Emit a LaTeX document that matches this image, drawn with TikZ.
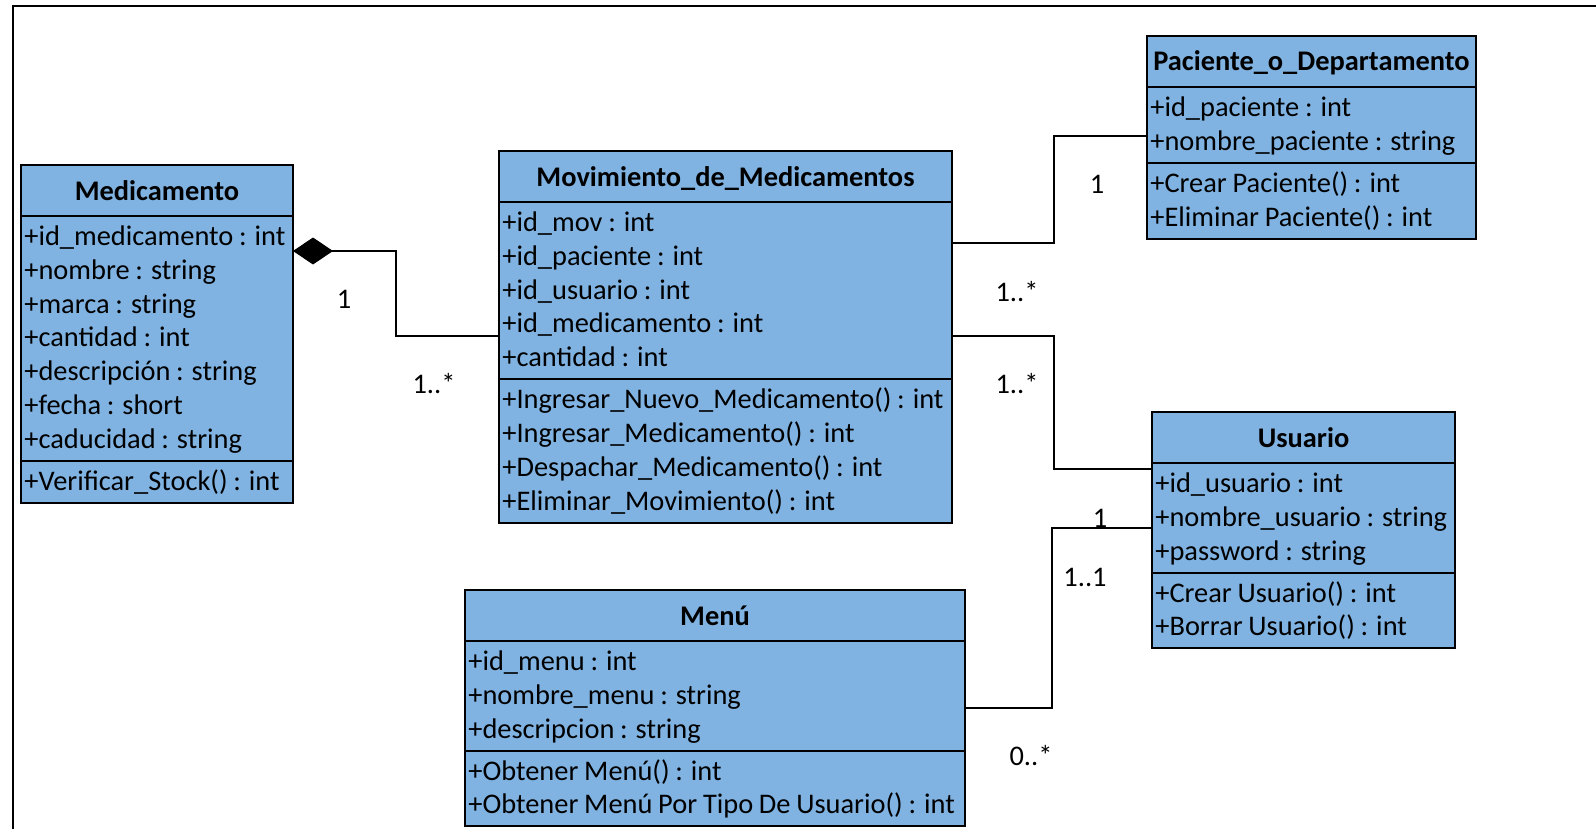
\documentclass[tikz,border=0pt]{standalone}
\usepackage{fontspec}
\setmainfont{Carlito}[WordSpace=0.9]
\usetikzlibrary{arrows.meta}
\definecolor{classfill}{RGB}{128,179,225}

% UML class box: name, x, y (top), width, title, attributes, methods, #attributes, #methods
\newcommand\umlclass[9]{%
  \pgfmathsetmacro\uhA{42+(#8-1)*33.8}%
  \pgfmathsetmacro\uhM{42+(#9-1)*33.8}%
  \pgfmathsetmacro\uyA{#3+51}%
  \pgfmathsetmacro\uyM{#3+51+\uhA}%
  \pgfmathsetmacro\uyB{\uyM+\uhM}%
  \pgfmathsetmacro\uxR{#2+#4}%
  \pgfmathsetmacro\uxC{#2+#4/2}%
  \pgfmathsetmacro\uW{#4*0.5}%
  \pgfmathsetmacro\uH{(\uyB-#3)*0.5}%
  \node[classbox, minimum width=\uW pt, minimum height=\uH pt] (#1) at (#2,#3) {};
  \draw[divider] (#1.west |- {0,\uyA}) -- (#1.east |- {0,\uyA});
  \draw[divider] (#1.west |- {0,\uyM}) -- (#1.east |- {0,\uyM});
  \node[titletext] (#1-title) at ({\uxC},{#3+35}) {#5};
  \foreach \itm [count=\i] in {#6} {%
    \node[rowtext] (#1-a\i) at ({#2+3},{\uyA+29.5+(\i-1)*33.8}) {\itm};}
  \foreach \itm [count=\i] in {#7} {%
    \node[rowtext] (#1-m\i) at ({#2+3},{\uyM+29.5+(\i-1)*33.8}) {\itm};}
}

\begin{document}
\begin{tikzpicture}[x=0.5pt,y=-0.5pt,
  classbox/.style={draw=black, fill=classfill, line width=1pt, rectangle,
    inner sep=0pt, outer sep=0pt, anchor=north west},
  divider/.style={draw=black, line width=1pt},
  rowtext/.style={anchor=base west, inner sep=0pt, font=\fontsize{14.2}{17}\selectfont},
  titletext/.style={anchor=base, inner sep=0pt, font=\fontsize{14.2}{17}\selectfont\bfseries},
  mult/.style={anchor=base, inner sep=0pt, font=\fontsize{14.2}{17}\selectfont},
  assoc/.style={draw=black, line width=0.6pt},
  composition/.style={assoc, {Diamond[length=20pt,width=13.5pt]}-},
  frame/.style={draw=black, line width=1pt}]

\useasboundingbox (0,0) rectangle (1596,829);

% frame
\draw[frame] (1596,6) -- (13,6) -- (13,829);

% classes
\umlclass{med}{21}{165}{272}{Medicamento}%
  {+id\_medicamento : int,+nombre : string,+marca : string,+cantidad : int,+descripción : string,+fecha : short,+caducidad : string}%
  {+Verificar\_Stock() : int}{7}{1}

\umlclass{mov}{499}{151}{453}{Movimiento\_de\_Medicamentos}%
  {+id\_mov : int,+id\_paciente : int,+id\_usuario : int,+id\_medicamento : int,+cantidad : int}%
  {+Ingresar\_Nuevo\_Medicamento() : int,+Ingresar\_Medicamento() : int,+Despachar\_Medicamento() : int,+Eliminar\_Movimiento() : int}{5}{4}

\umlclass{pac}{1147}{36}{329}{Paciente\_o\_Departamento}%
  {+id\_paciente : int,+nombre\_paciente : string}%
  {+Crear Paciente() : int,+Eliminar Paciente() : int}{2}{2}

\umlclass{usu}{1152}{412}{303}{Usuario}%
  {+id\_usuario : int,+nombre\_usuario : string,+password : string}%
  {+Crear Usuario() : int,+Borrar Usuario() : int}{3}{2}

\umlclass{menu}{465}{590}{500}{Menú}%
  {+id\_menu : int,+nombre\_menu : string,+descripcion : string}%
  {+Obtener Menú() : int,+Obtener Menú Por Tipo De Usuario() : int}{3}{2}

% attachment points and elbows
\coordinate (medR)  at (med.east |- 0,251);
\coordinate (movL)  at (mov.west |- 0,336);
\coordinate (movR1) at (mov.east |- 0,243);
\coordinate (movR2) at (mov.east |- 0,336);
\coordinate (pacL)  at (pac.west |- 0,136);
\coordinate (usuL1) at (usu.west |- 0,469);
\coordinate (usuL2) at (usu.west |- 0,528);
\coordinate (menuR) at (menu.east |- 0,708);
\coordinate (jA) at (396,0);
\coordinate (jB) at (1054,0);
\coordinate (jC) at (1052,0);

% connectors
\draw[composition] (medR) -- (medR -| jA) -- (movL -| jA) -- (movL);
\draw[assoc] (movR1) -- (movR1 -| jB) -- (pacL -| jB) -- (pacL);
\draw[assoc] (movR2) -- (movR2 -| jB) -- (usuL1 -| jB) -- (usuL1);
\draw[assoc] (menuR) -- (menuR -| jC) -- (usuL2 -| jC) -- (usuL2);

% multiplicities
\node[mult] (m1) at (344,308) {1};
\node[mult] (m2) at (434,393) {1..*};
\node[mult] (m3) at (1097,193) {1};
\node[mult] (m4) at (1017,301) {1..*};
\node[mult] (m5) at (1017,393) {1..*};
\node[mult] (m6) at (1100,527) {1};
\node[mult] (m7) at (1085,586) {1..1};
\node[mult] (m8) at (1031,765) {0..*};
\end{tikzpicture}
\end{document}
